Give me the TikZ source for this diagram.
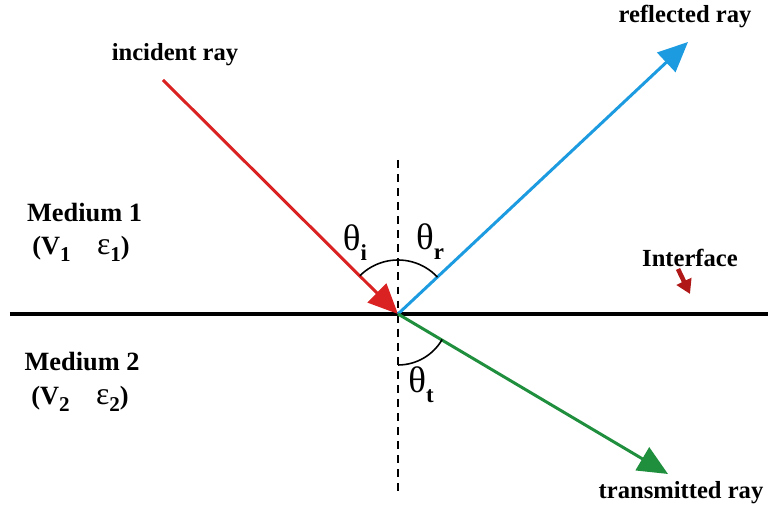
\documentclass[tikz,border=0pt]{standalone}
\usepackage{fontspec}
\setmainfont{Liberation Serif}
\usetikzlibrary{arrows.meta}
\definecolor{rayRed}{HTML}{DA2222}
\definecolor{rayBlue}{HTML}{1C9BE0}
\definecolor{rayGreen}{HTML}{1F8F3E}
\definecolor{markRed}{HTML}{B01818}

\begin{document}
\begin{tikzpicture}[
            ray/.style={line width=1.7pt, -{Triangle[length=17pt,width=15pt]}},
            lbl/.style={font=\bfseries\fontsize{14}{16}\selectfont},
            med/.style={font=\bfseries\fontsize{15}{17}\selectfont},
            ang/.style={font=\fontsize{21}{24}\selectfont}
        ]
            \useasboundingbox (0,0) rectangle (15.36,10.14);
            \coordinate (O) at (7.96,3.86);
            \coordinate (src) at (3.26,8.54);
            \coordinate (refl) at (13.76,9.30);
            \coordinate (trans) at (13.36,0.66);
            \coordinate (ifL) at (0.2,3.86);
            \coordinate (ifR) at (15.36,3.86);
            \coordinate (nTop) at (7.96,6.94);
            \coordinate (nBot) at (7.96,0.30);
            \coordinate (markA) at (13.56,4.76);
            \coordinate (markB) at (13.80,4.26);
            \draw[line width=2.3pt] (ifL) -- (ifR);
            \draw[dash pattern=on 4.5pt off 3.5pt, line width=0.8pt] (nTop) -- (nBot);
            \draw[ray, rayRed] (src) -- (O);
            \draw[ray, rayBlue] (O) -- (refl);
            \draw[ray, rayGreen] (O) -- (trans);
            \draw[line width=0.9pt] ([shift={(135:1.08)}]O) arc[start angle=135, end angle=43, radius=1.08];
            \draw[line width=0.9pt] ([shift={(270:1.02)}]O) arc[start angle=270, end angle=330, radius=1.02];
            \draw[markRed, line width=2.6pt, -{Triangle[length=8pt,width=9pt]}] (markA) -- (markB);
            \node[lbl] (incLbl) at (3.5,9.04) {incident ray};
            \node[lbl] (reflLbl) at (13.70,9.80) {reflected ray};
            \node[lbl] (transLbl) at (13.62,0.28) {transmitted ray};
            \node[med] (med1) at (1.69,5.88) {Medium 1};
            \node[med] (par1) at (1.62,5.16) {(\textbf{V}\raisebox{-0.6ex}{\fontsize{12}{12}\selectfont 1}\quad{\mdseries\fontsize{18}{18}\selectfont ε}\raisebox{-0.6ex}{\fontsize{12}{12}\selectfont 1})};
            \node[med] (med2) at (1.64,2.90) {Medium 2};
            \node[med] (par2) at (1.60,2.16) {(\textbf{V}\raisebox{-0.6ex}{\fontsize{12}{12}\selectfont 2}\quad{\mdseries\fontsize{18}{18}\selectfont ε}\raisebox{-0.6ex}{\fontsize{12}{12}\selectfont 2})};
            \node[lbl] (ifLbl) at (13.8,4.98) {Interface};
            \node[ang] (thI) at (7.1,5.28) {θ\raisebox{-0.6ex}{\bfseries\fontsize{13}{13}\selectfont i}};
            \node[ang] (thR) at (8.6,5.30) {θ\raisebox{-0.6ex}{\bfseries\fontsize{13}{13}\selectfont r}};
            \node[ang] (thT) at (8.42,2.44) {θ\raisebox{-0.6ex}{\bfseries\fontsize{13}{13}\selectfont t}};
        \end{tikzpicture}
\end{document}
